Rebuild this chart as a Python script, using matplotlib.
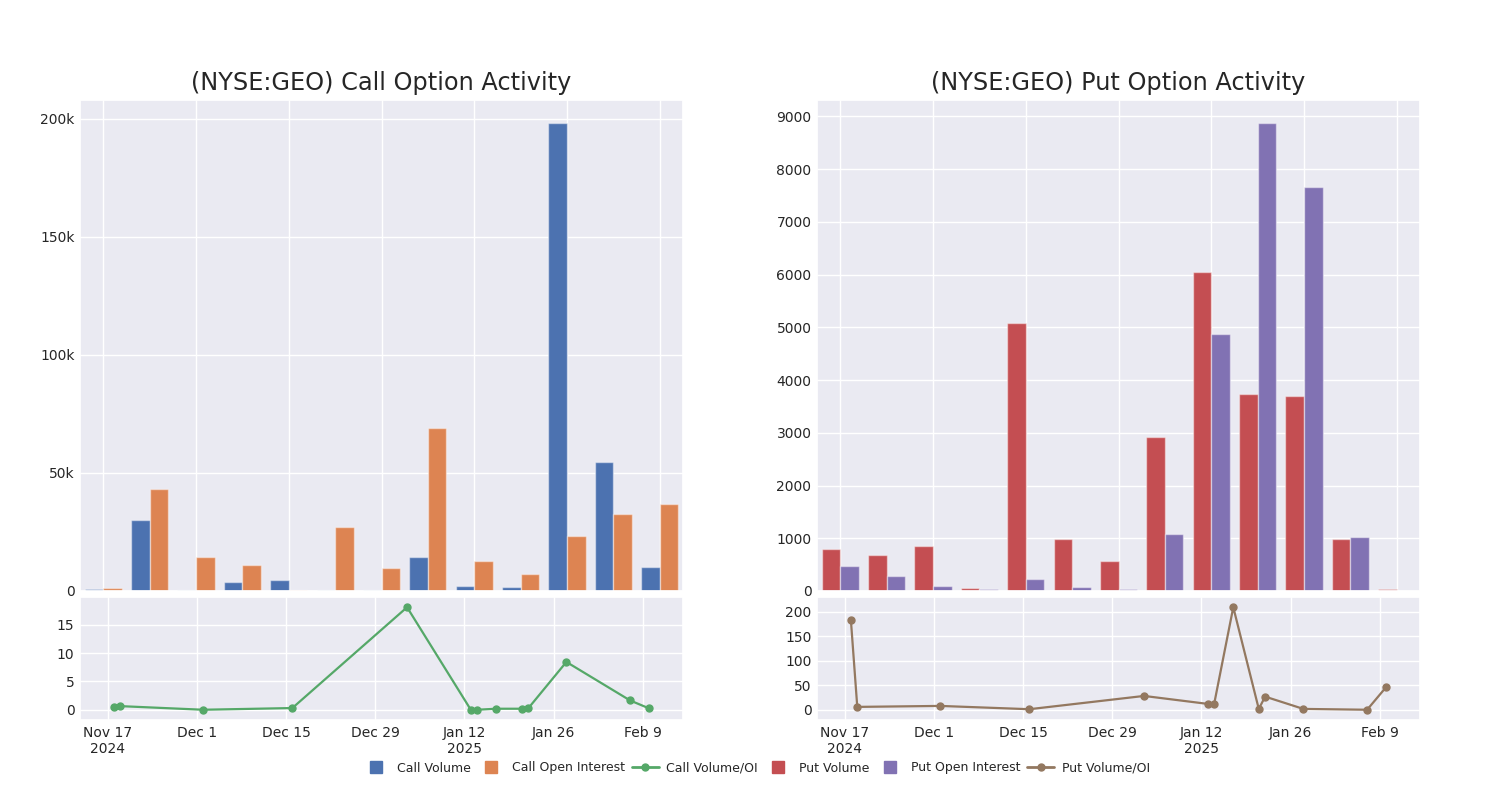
import matplotlib
matplotlib.use("Agg")
import matplotlib.pyplot as plt
from matplotlib.lines import Line2D
from matplotlib.ticker import FuncFormatter
import numpy as np
import seaborn as sns
from datetime import datetime

sns.set_theme(style="darkgrid")
plt.rcParams['font.family'] = ['DejaVu Sans']

# ---- data ----
call_volume = [700, 30000, 400, 3700, 4800, 300, 250, 14200, 2300, 1900, 198000, 54800, 10300]
call_oi = [1400, 43400, 14400, 11200, 300, 26900, 9600, 69200, 12700, 7100, 23200, 32400, 37000]
put_volume = [793, 685, 862, 63, 5079, 977, 571, 2911, 6050, 3735, 3703, 989, 32]
put_oi = [482, 279, 95, 38, 228, 70, 38, 1084, 4876, 8866, 7667, 1021, 0]

ratio_dates = ["2024-11-18", "2024-11-19", "2024-12-02", "2024-12-16", "2025-01-03",
               "2025-01-13", "2025-01-14", "2025-01-17", "2025-01-21", "2025-01-22",
               "2025-01-28", "2025-02-07", "2025-02-10"]
call_ratio = [0.47, 0.64, 0.0, 0.3, 18.1, 0.0, 0.0, 0.18, 0.18, 0.23, 8.44, 1.64, 0.23]
put_ratio = [182.4, 6.1, 8.1, 1.4, 28.4, 12.2, 12.2, 208.8, 2.0, 27.0, 2.0, 0.3, 46.6]

tick_dates = ["2024-11-17", "2024-12-01", "2024-12-15", "2024-12-29",
              "2025-01-12", "2025-01-26", "2025-02-09"]
tick_labels = ["Nov 17\n2024", "Dec 1", "Dec 15", "Dec 29", "Jan 12\n2025", "Jan 26", "Feb 9"]

titles = ["(NYSE:GEO) Call Option Activity", "(NYSE:GEO) Put Option Activity"]

pal = sns.color_palette("deep")
c_blue, c_orange, c_green, c_red, c_purple, c_brown = pal[0], pal[1], pal[2], pal[3], pal[4], pal[5]

fig = plt.figure(figsize=(15, 8), dpi=100)

lefts = [80 / 1500, 817 / 1500]
width = 603 / 1500
bar_bottom, bar_h = 1 - 591 / 800, (591 - 100) / 800
line_bottom, line_h = 1 - 720 / 800, (720 - 597) / 800

dates = [datetime.strptime(d, "%Y-%m-%d") for d in ratio_dates]
tdates = [datetime.strptime(d, "%Y-%m-%d") for d in tick_dates]

def kfmt(v, pos):
    if v == 0:
        return "0"
    return f"{int(v/1000)}k"

groups = [
    (call_volume, call_oi, call_ratio, c_blue, c_orange, c_green, [0, 50000, 100000, 150000, 200000], kfmt, [0, 5, 10, 15]),
    (put_volume, put_oi, put_ratio, c_red, c_purple, c_brown, list(range(0, 9001, 1000)), None, [0, 50, 100, 150, 200]),
]

for i, (vol, oi, ratio, cv, co, cl, yt, yf, lyt) in enumerate(groups):
    axb = fig.add_axes([lefts[i], bar_bottom, width, bar_h])
    x = np.arange(len(vol))
    w = 0.4
    axb.bar(x - w / 2, vol, width=w, color=cv, edgecolor=(1, 1, 1, 0.45), linewidth=1)
    axb.bar(x + w / 2, oi, width=w, color=co, edgecolor=(1, 1, 1, 0.45), linewidth=1)
    axb.set_xlim(-0.5, len(vol) - 0.5)
    axb.set_ylim(0, max(max(vol), max(oi)) * 1.05)
    axb.set_xticks(np.arange(0, len(vol), 2))
    axb.set_xticklabels([])
    axb.set_yticks(yt)
    if yf:
        axb.yaxis.set_major_formatter(FuncFormatter(yf))
    axb.tick_params(axis='both', length=0, labelsize=10, pad=4)
    axb.set_title(titles[i], fontsize=17.3, pad=7)

    axl = fig.add_axes([lefts[i], line_bottom, width, line_h])
    axl.plot(dates, ratio, color=cl, marker='o', markersize=5, linewidth=1.6)
    axl.set_xlim(datetime(2024, 11, 12, 16, 20), datetime(2025, 2, 15, 7, 10))
    axl.margins(y=0.1)
    axl.set_xticks(tdates)
    axl.set_xticklabels(tick_labels)
    axl.set_yticks(lyt)
    axl.tick_params(axis='both', length=0, labelsize=10, pad=4)

handles = [
    Line2D([], [], marker='s', linestyle='none', color=c_blue, markersize=8.5),
    Line2D([], [], marker='s', linestyle='none', color=c_orange, markersize=8.5),
    Line2D([], [], marker='o', color=c_green, markersize=5, linewidth=2),
    Line2D([], [], marker='s', linestyle='none', color=c_red, markersize=8.5),
    Line2D([], [], marker='s', linestyle='none', color=c_purple, markersize=8.5),
    Line2D([], [], marker='o', color=c_brown, markersize=5, linewidth=2),
]
labels = ["Call Volume", "Call Open Interest", "Call Volume/OI", "Put Volume", "Put Open Interest", "Put Volume/OI"]
fig.legend(handles, labels, loc='center', bbox_to_anchor=(0.504, 1 - 768 / 800), ncol=6,
           frameon=False, fontsize=9, handlelength=2.2, columnspacing=0.5, handletextpad=0.6)

fig.savefig("out.png", dpi=100)
